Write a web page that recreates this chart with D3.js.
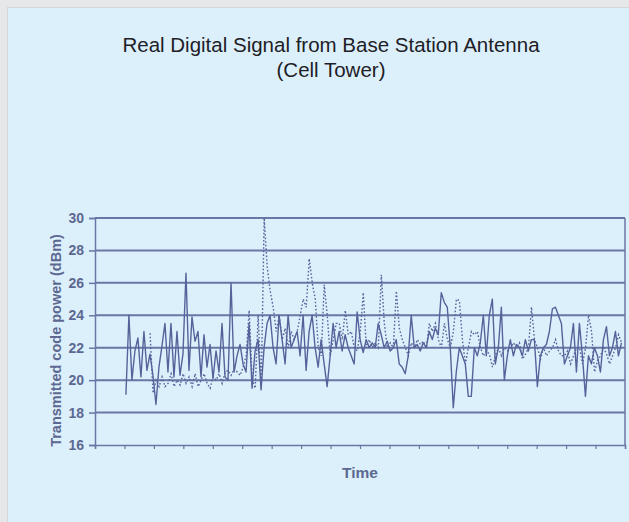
<!DOCTYPE html>
<html>
<head>
<meta charset="utf-8">
<script src="https://cdn.jsdelivr.net/npm/d3@7"></script>
<style>
body{margin:0;background:#e6e7e8;}
svg{display:block;font-family:Arial,"Liberation Sans",sans-serif;}
</style>
</head>
<body>
<script>

var titleLines = ["Real Digital Signal from Base Station Antenna","(Cell Tower)"];
var yTicks = [16,18,20,22,24,26,28,30];
var xTickCount = 18;

// solid trace, one sample every sampleStep time units, starting at solidStart
var solidStart = 1.05;
var solidValues = [
 19.1,24.0,20.0,21.8,22.6,20.2,23.0,20.6,21.6,20.3,
 18.5,20.8,22.1,23.5,20.5,23.5,20.2,23.0,20.3,21.6,
 26.6,20.6,23.9,22.4,23.0,20.2,22.8,20.8,22.2,20.1,
 21.8,20.5,23.5,20.2,20.0,26.0,20.5,21.5,22.2,21.0,
 20.5,23.5,19.5,21.8,22.5,19.4,22.0,23.5,24.0,22.0,
 21.0,24.0,22.5,21.0,24.0,22.0,22.5,23.0,21.5,24.0,
 20.6,23.0,24.0,22.0,20.8,22.5,21.0,19.6,21.5,23.5,
 22.0,23.0,21.8,22.8,22.0,21.5,21.0,24.2,22.5,21.7,
 22.5,22.0,22.3,22.0,23.5,22.8,22.0,22.4,21.8,22.0,
 22.5,21.0,20.8,20.4,21.5,24.0,22.0,22.2,21.8,22.3,
 22.0,23.0,22.5,23.2,22.8,25.4,24.8,24.5,22.0,18.3,
 20.5,22.0,21.5,21.0,19.0,19.0,22.0,21.5,22.3,24.0,
 21.5,24.0,25.0,21.0,22.0,24.5,20.0,21.5,22.5,21.5,
 22.2,22.0,21.5,22.5,21.8,22.5,22.5,19.6,21.5,22.0,
 22.2,23.0,24.4,24.5,24.0,23.5,21.0,21.5,22.0,23.5,
 20.5,23.5,21.5,19.0,21.5,21.0,22.0,21.5,20.5,22.5,
 23.3,21.5,22.0,23.0,21.5,22.3
];

// dotted trace
var dottedStart = 1.87;
var dottedValues = [
 22.9,19.2,20.0,19.6,20.2,19.6,19.8,20.4,19.6,20.0,
 19.7,20.4,19.8,20.2,19.6,20.4,19.6,20.0,20.4,19.8,
 19.5,20.2,20.0,20.4,19.8,20.5,20.6,20.3,20.7,20.5,
 20.3,20.8,21.5,24.3,20.0,19.5,24.0,19.5,30.0,27.0,
 25.5,24.5,23.0,24.0,22.5,23.2,22.0,23.0,22.5,23.0,
 24.0,25.0,24.5,27.5,26.0,25.0,22.0,21.5,25.9,24.0,
 21.5,22.5,23.5,23.5,22.5,24.3,22.8,23.0,22.0,21.8,
 23.0,25.4,22.0,22.5,22.0,22.3,22.0,26.5,23.5,22.0,
 22.3,22.0,25.5,23.2,22.5,22.0,21.5,22.3,22.0,22.5,
 22.2,22.4,22.0,23.5,23.0,23.5,22.5,22.0,23.5,22.5,
 22.0,23.0,25.0,24.9,22.5,21.0,22.0,23.0,22.8,23.0,
 22.0,21.5,21.8,21.6,20.8,21.5,22.0,21.5,22.0,21.8,
 22.0,22.3,22.0,22.3,21.3,21.6,22.0,24.5,22.5,22.0,
 21.3,22.0,21.5,21.8,22.0,22.5,21.8,21.5,21.5,21.8,
 21.0,21.5,22.0,22.0,21.0,22.0,24.0,23.0,20.5,21.2,
 21.5,22.0,21.6,21.0,21.5,22.0,22.8,22.3
];
var sampleStep = 0.102;

var width = 629, height = 522;
var margin = {left:95,right:4,top:218,bottom:77};
var innerW = width - margin.left - margin.right;
var innerH = height - margin.top - margin.bottom;
var lineColor = "#56639a";
var gridColor = "#6a76a5";
var labelColor = "#5c6891";

var svg = d3.select("body").append("svg").attr("width",width).attr("height",height);

svg.append("rect").attr("x",8).attr("y",8).attr("width",width-8).attr("height",height-8)
    .attr("fill","#dcf0fc");
svg.append("rect").attr("x",7).attr("y",7).attr("width",width-7).attr("height",1)
    .attr("fill","#d4d6d8");
svg.append("rect").attr("x",7).attr("y",7).attr("width",1).attr("height",height-7)
    .attr("fill","#d4d6d8");

svg.selectAll("text.title").data(titleLines).enter().append("text")
    .attr("class","title")
    .attr("x",331)
    .attr("y",function(d,i){return 52+i*25;})
    .attr("text-anchor","middle")
    .attr("font-size","20.5px")
    .attr("fill","#1e2026")
    .text(function(d){return d;});

var chartGroup = svg.append("g")
    .attr("transform","translate("+margin.left+","+margin.top+")");

var x = d3.scaleLinear().domain([0,xTickCount]).range([0,innerW]);
var y = d3.scaleLinear().domain([16,30]).range([innerH,0]);

chartGroup.selectAll("line.grid").data(yTicks.slice(1)).enter().append("line")
    .attr("class","grid")
    .attr("x1",0).attr("x2",innerW)
    .attr("y1",function(d){return y(d);}).attr("y2",function(d){return y(d);})
    .attr("stroke",gridColor).attr("stroke-width",2);

chartGroup.append("line")
    .attr("x1",innerW).attr("x2",innerW).attr("y1",0).attr("y2",innerH)
    .attr("stroke",gridColor).attr("stroke-width",1.5);

var yAxis = d3.axisLeft(y).tickValues(yTicks).tickSize(6).tickPadding(5);
var xAxis = d3.axisBottom(x).ticks(xTickCount).tickSize(4).tickFormat("");

var yG = chartGroup.append("g").attr("class","y axis").call(yAxis);
var xG = chartGroup.append("g").attr("class","x axis")
    .attr("transform","translate(0,"+innerH+")").call(xAxis);

yG.select(".domain").attr("stroke",gridColor).attr("stroke-width",1.5);
xG.select(".domain").attr("stroke",gridColor).attr("stroke-width",1.5);
yG.selectAll(".tick line").attr("stroke",gridColor).attr("stroke-width",1.5);
xG.selectAll(".tick line").attr("stroke",gridColor).attr("stroke-width",1.2);
yG.selectAll(".tick text").attr("fill",labelColor).attr("font-size","14px")
    .attr("font-weight","bold").attr("font-family","Arial,'Liberation Sans',sans-serif");

var line = d3.line()
    .x(function(d){return x(d.t);})
    .y(function(d){return y(d.v);});

var solidData = solidValues.map(function(v,i){return {t:solidStart+i*sampleStep,v:v};});
var dottedData = dottedValues.map(function(v,i){return {t:dottedStart+i*sampleStep,v:v};});

chartGroup.append("path").datum(dottedData)
    .attr("d",line)
    .attr("fill","none")
    .attr("stroke",lineColor)
    .attr("stroke-width",1.4)
    .attr("stroke-dasharray","1.6,2");

chartGroup.append("path").datum(solidData)
    .attr("d",line)
    .attr("fill","none")
    .attr("stroke",lineColor)
    .attr("stroke-width",1.4)
    .attr("stroke-linejoin","round");

svg.append("text")
    .attr("transform","translate(61,"+(margin.top+innerH/2+9)+") rotate(-90)")
    .attr("text-anchor","middle")
    .attr("font-size","14.5px")
    .attr("font-weight","bold")
    .attr("fill",labelColor)
    .text("Transmitted code power (dBm)");

svg.append("text")
    .attr("x",margin.left+innerW/2)
    .attr("y",478)
    .attr("text-anchor","middle")
    .attr("font-size","15.5px")
    .attr("font-weight","bold")
    .attr("fill",labelColor)
    .text("Time");

</script>
</body>
</html>
